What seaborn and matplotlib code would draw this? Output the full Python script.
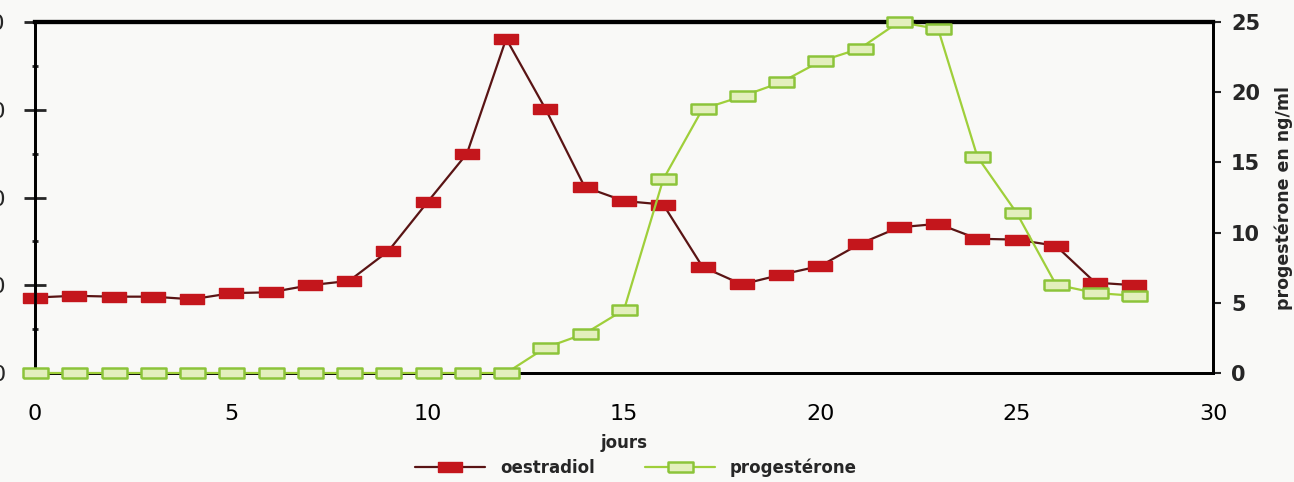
import matplotlib
matplotlib.use("Agg")
import matplotlib.pyplot as plt
import matplotlib.ticker as mticker
from matplotlib.lines import Line2D
import seaborn as sns

# data
jours = list(range(0, 29))
oestradiol = [86, 88, 87, 87, 84, 91, 92, 100, 105, 139, 195, 250, 381, 301, 212,
              196, 192, 121, 101, 112, 122, 147, 166, 170, 153, 152, 145, 103, 100]
progesterone = [0, 0, 0, 0, 0, 0, 0, 0, 0, 0, 0, 0, 0, 1.8, 2.8,
                4.5, 13.8, 18.8, 19.7, 20.7, 22.2, 23.1, 25.0, 24.5, 15.4, 11.4, 6.3, 5.7, 5.5]
x_ticks = [0, 5, 10, 15, 20, 25, 30]
left_ticks = [0, 100, 200, 300, 400]
right_ticks = [0, 5, 10, 15, 20, 25]

sns.set_style("white")
plt.rcParams['font.family'] = ['DejaVu Sans']

bg = '#f9f9f7'
fig = plt.figure(figsize=(12.94, 4.82), dpi=100, facecolor=bg)
ax = fig.add_axes([35 / 1294, 1 - 373 / 482, (1213 - 35) / 1294, (373 - 22) / 482])
ax.set_facecolor(bg)
ax2 = ax.twinx()

rect = [(-1, -0.42), (1, -0.42), (1, 0.42), (-1, 0.42), (-1, -0.42)]

red_fill = '#c4161c'
red_line = '#5a1414'
green_line = '#9fcf3a'
green_edge = '#8cc43a'
green_fill = '#e3efbd'

sns.lineplot(x=jours, y=oestradiol, ax=ax, color=red_line, linewidth=1.6,
             marker=rect, markersize=17, markerfacecolor=red_fill,
             markeredgecolor=red_fill, markeredgewidth=1, clip_on=False, zorder=3)
sns.lineplot(x=jours, y=progesterone, ax=ax2, color=green_line, linewidth=1.6,
             marker=rect, markersize=18, markerfacecolor=green_fill,
             markeredgecolor=green_edge, markeredgewidth=1.8, clip_on=False, zorder=4)

ax.set_xlim(0, 30)
ax.set_ylim(0, 400)
ax2.set_ylim(0, 25)

ax.set_xticks(x_ticks)
ax.xaxis.set_minor_locator(mticker.MultipleLocator(2.5))
ax.set_yticks(left_ticks)
ax.yaxis.set_minor_locator(mticker.MultipleLocator(50))
ax2.set_yticks(right_ticks)

ax.tick_params(axis='x', which='major', direction='inout', length=7, width=1.5,
               labelsize=16, pad=19, colors='black')
ax.tick_params(axis='x', which='minor', direction='inout', length=5, width=1.5)
ax.tick_params(axis='y', which='major', direction='inout', length=16, width=2,
               labelsize=16, pad=13)
ax.tick_params(axis='y', which='minor', direction='inout', length=5, width=2)
ax2.tick_params(axis='y', which='major', direction='out', length=6, width=1.5,
                labelsize=15, pad=7)
for lab in ax2.get_yticklabels():
    lab.set_fontweight('bold')

for a in (ax, ax2):
    for side in ('left', 'right', 'bottom'):
        a.spines[side].set_color('black')
        a.spines[side].set_linewidth(2)
    a.spines['top'].set_color('black')
    a.spines['top'].set_linewidth(3)

ax.set_xlabel('jours', fontsize=12, fontweight='bold', labelpad=7)
ax.set_ylabel('')
ax2.set_ylabel('progestérone en ng/ml', fontsize=12.5, fontweight='bold', labelpad=10)

handles = [
    Line2D([0], [0], color=red_line, linewidth=1.6, marker=rect, markersize=17,
           markerfacecolor=red_fill, markeredgecolor=red_fill),
    Line2D([0], [0], color=green_line, linewidth=1.6, marker=rect, markersize=18,
           markerfacecolor=green_fill, markeredgecolor=green_edge, markeredgewidth=1.8),
]
fig.legend(handles, ['oestradiol', 'progestérone'], loc='center',
           bbox_to_anchor=(636 / 1294, 1 - 468 / 482), ncol=2, frameon=False,
           prop={'size': 12, 'weight': 'semibold'}, handlelength=4.2,
           handletextpad=0.9, columnspacing=3.0, borderpad=0, borderaxespad=0)

fig.savefig('out.png', dpi=100, facecolor=bg)
